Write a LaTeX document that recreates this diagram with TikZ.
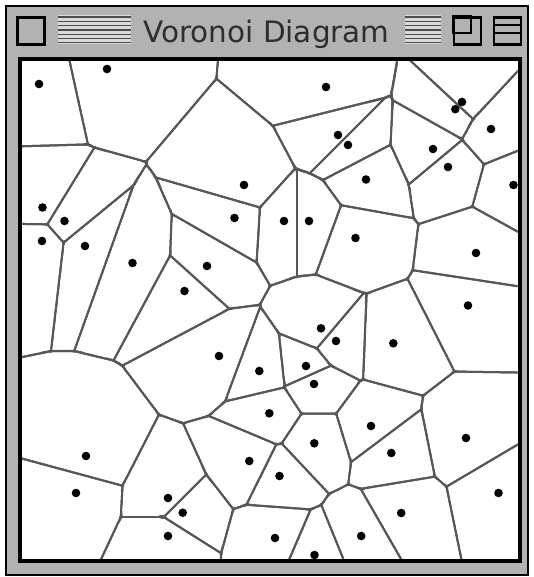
\documentclass[tikz,border=0pt]{standalone}
\usepackage{fontspec}
\setsansfont{DejaVu Sans}
\usetikzlibrary{calc}
\begin{document}
\begin{tikzpicture}[x=1pt,y=-1pt,
  vedge/.style={line width=2pt, draw=black!66},
  site/.style={circle, fill=black, inner sep=0pt, minimum size=8.6pt},
  chrome/.style={fill=black!30, draw=black, line width=2.4pt, minimum width=27pt, minimum height=27pt, inner sep=0pt},
  stripe/.style={draw=black!70, line width=1.3pt},
  ]
\useasboundingbox (0,0) rectangle (533,577);
\fill[white] (0,0) rectangle (533,577);
% window body
\filldraw[fill=black!30, draw=black, line width=2pt] (6,6) rectangle (528,575);
% title bar items
\node[chrome] (closebox) at (31,31) {};
\fill[white!85!black] (58,15) rectangle (131,44);
\foreach \k in {0,...,6} {\draw[stripe] (58,17+4.3*\k) -- (131,17+4.3*\k);}
\fill[white!85!black] (405,15) rectangle (441,44);
\foreach \k in {0,...,6} {\draw[stripe] (405,17+4.3*\k) -- (441,17+4.3*\k);}
\node[font=\sffamily\fontsize{29.5}{29.5}\selectfont, text=black!82, anchor=base west, inner sep=0pt] (title) at (143,43) {Voronoi Diagram};
\node[chrome] (zoombox) at (467.5,31) {};
\draw[black, line width=2.4pt] (zoombox.north west) rectangle ($(zoombox.north west)+(18,17)$);
\node[chrome] (shadebox) at (507.5,31) {};
\draw[black, line width=2pt] ($(shadebox.west)+(0,-5.5)$) -- ++(27,0);
\draw[black, line width=2pt] ($(shadebox.west)+(0,2.5)$) -- ++(27,0);
% content
\fill[white] (20,59.5) rectangle (519.5,561);
\def\sitelist{107/69, 39/84, 326/87, 462/102, 455.3/109.2, 338/135, 348/145, 491/129, 433/149, 448/167, 244/185, 366/179.5, 513.5/185, 42.5/207.5, 64.5/221, 234.5/218, 284/221, 309/221, 42/241, 85/246, 355.5/238, 476/253, 132.5/263, 207/266, 184.5/291, 468/305.5, 321/328.3, 336/341, 219/356, 259.3/371, 306/366, 314/384, 393.3/343.3, 269.3/413.3, 371/426, 314.3/443.3, 391.3/453, 466/438, 249.3/461, 279.5/476, 86/456, 76/493, 168/498, 182.7/512.7, 168/536, 275/538, 314.5/555, 361.2/536, 401.2/513, 498.5/493}
\begin{scope}
\clip (22,61.5) rectangle (517.5,559);
\foreach \xi/\yi [count=\ii] in \sitelist {
  \gdef\cliplist{}%
  \gdef\linelist{}%
  \foreach \xk/\yk [count=\kk] in \sitelist {
    \ifnum\ii=\kk\relax\else
      \pgfmathsetmacro\vlen{veclen(\xi-\xk,\yi-\yk)}%
      \pgfmathtruncatemacro\vnear{\vlen<260?1:0}%
      \ifnum\vnear=1\relax
        \pgfmathsetmacro\vmx{(\xi+\xk)/2}%
        \pgfmathsetmacro\vmy{(\yi+\yk)/2}%
        \pgfmathsetmacro\vdx{(\xi-\xk)/\vlen}%
        \pgfmathsetmacro\vdy{(\yi-\yk)/\vlen}%
        \pgfmathsetmacro\vpx{\vmx-1.3*(\vdx)}%
        \pgfmathsetmacro\vpy{\vmy-1.3*(\vdy)}%
        \pgfmathsetmacro\vax{\vmx-800*(\vdy)}%
        \pgfmathsetmacro\vay{\vmy+800*(\vdx)}%
        \pgfmathsetmacro\vbx{\vmx+800*(\vdy)}%
        \pgfmathsetmacro\vby{\vmy-800*(\vdx)}%
        \pgfmathsetmacro\qax{\vpx-800*(\vdy)}%
        \pgfmathsetmacro\qay{\vpy+800*(\vdx)}%
        \pgfmathsetmacro\qbx{\vpx+800*(\vdy)}%
        \pgfmathsetmacro\qby{\vpy-800*(\vdx)}%
        \pgfmathsetmacro\qex{\qax+800*(\vdx)}%
        \pgfmathsetmacro\qey{\qay+800*(\vdy)}%
        \pgfmathsetmacro\qcx{\qbx+800*(\vdx)}%
        \pgfmathsetmacro\qcy{\qby+800*(\vdy)}%
        \xdef\cliplist{\unexpanded\expandafter{\cliplist}\noexpand\clip (\qax,\qay) -- (\qex,\qey) -- (\qcx,\qcy) -- (\qbx,\qby) -- cycle;}%
        \xdef\linelist{\unexpanded\expandafter{\linelist}\noexpand\draw[vedge] (\vax,\vay) -- (\vbx,\vby);}%
      \fi
    \fi
  }
  \begin{scope}
    \cliplist
    \linelist
  \end{scope}
}
\end{scope}
\foreach \x/\y [count=\n] in \sitelist {\node[site] (s\n) at (\x,\y) {};}
\draw[black, line width=4pt] (20,59.5) rectangle (519.5,561);
\end{tikzpicture}
\end{document}
